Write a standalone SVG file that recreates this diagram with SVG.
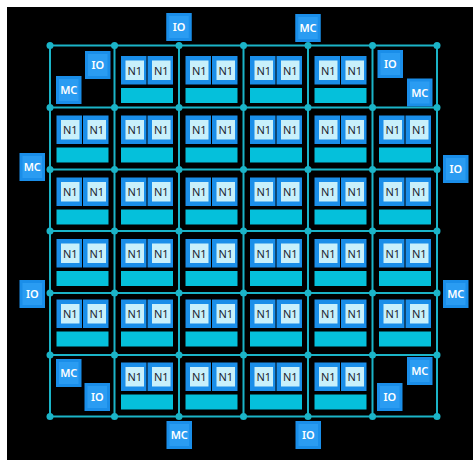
<svg xmlns="http://www.w3.org/2000/svg" width="473" height="460" viewBox="0 0 473 460">
<style>
.b{fill:#1a8ee9}
.bi{fill:#2a9cf2}
.l{fill:#c8f0fb}
.c{fill:#05c0db}
.t{font-family:"Noto Sans","Open Sans",sans-serif;font-size:11px;fill:#1b2430;text-anchor:middle}
.w{font-family:"Noto Sans","Open Sans",sans-serif;font-size:11px;font-weight:600;fill:#ffffff;text-anchor:middle}
.g{stroke:#1bb4c8;stroke-width:2;fill:none}
.d{fill:#1bb4c8}
</style>
<rect x="0" y="0" width="473" height="460" fill="#ffffff"/>
<rect x="7" y="7" width="466" height="453" fill="#000000"/>
<g id="connectors">
<path class="g" d="M50 45.5H437M50 107.5H437M50 169.5H437M50 231H437M50 293H437M50 355H437M50 416.5H437M50 45.5V416.5M114.5 45.5V416.5M179 45.5V416.5M243.5 45.5V416.5M308 45.5V416.5M372.5 45.5V416.5M437 45.5V416.5"/>
<g class="d">
<circle cx="50" cy="45.5" r="3.5"/><circle cx="114.5" cy="45.5" r="3.5"/><circle cx="179" cy="45.5" r="3.5"/><circle cx="243.5" cy="45.5" r="3.5"/><circle cx="308" cy="45.5" r="3.5"/><circle cx="372.5" cy="45.5" r="3.5"/><circle cx="437" cy="45.5" r="3.5"/>
<circle cx="50" cy="107.5" r="3.5"/><circle cx="114.5" cy="107.5" r="3.5"/><circle cx="179" cy="107.5" r="3.5"/><circle cx="243.5" cy="107.5" r="3.5"/><circle cx="308" cy="107.5" r="3.5"/><circle cx="372.5" cy="107.5" r="3.5"/><circle cx="437" cy="107.5" r="3.5"/>
<circle cx="50" cy="169.5" r="3.5"/><circle cx="114.5" cy="169.5" r="3.5"/><circle cx="179" cy="169.5" r="3.5"/><circle cx="243.5" cy="169.5" r="3.5"/><circle cx="308" cy="169.5" r="3.5"/><circle cx="372.5" cy="169.5" r="3.5"/><circle cx="437" cy="169.5" r="3.5"/>
<circle cx="50" cy="231" r="3.5"/><circle cx="114.5" cy="231" r="3.5"/><circle cx="179" cy="231" r="3.5"/><circle cx="243.5" cy="231" r="3.5"/><circle cx="308" cy="231" r="3.5"/><circle cx="372.5" cy="231" r="3.5"/><circle cx="437" cy="231" r="3.5"/>
<circle cx="50" cy="293" r="3.5"/><circle cx="114.5" cy="293" r="3.5"/><circle cx="179" cy="293" r="3.5"/><circle cx="243.5" cy="293" r="3.5"/><circle cx="308" cy="293" r="3.5"/><circle cx="372.5" cy="293" r="3.5"/><circle cx="437" cy="293" r="3.5"/>
<circle cx="50" cy="355" r="3.5"/><circle cx="114.5" cy="355" r="3.5"/><circle cx="179" cy="355" r="3.5"/><circle cx="243.5" cy="355" r="3.5"/><circle cx="308" cy="355" r="3.5"/><circle cx="372.5" cy="355" r="3.5"/><circle cx="437" cy="355" r="3.5"/>
<circle cx="50" cy="416.5" r="3.5"/><circle cx="114.5" cy="416.5" r="3.5"/><circle cx="179" cy="416.5" r="3.5"/><circle cx="243.5" cy="416.5" r="3.5"/><circle cx="308" cy="416.5" r="3.5"/><circle cx="372.5" cy="416.5" r="3.5"/><circle cx="437" cy="416.5" r="3.5"/>
</g>
</g>
<defs>
<g id="pe">
<rect class="b" x="6.5" y="0" width="25.5" height="28.5"/>
<rect class="b" x="33" y="0" width="25.5" height="28.5"/>
<rect class="l" x="11" y="4.5" width="18.5" height="19.5"/>
<rect class="l" x="37.5" y="4.5" width="18.5" height="19.5"/>
<rect class="c" x="6.5" y="32" width="52" height="15"/>
</g>
</defs>
<!-- row 0 -->
<g id="n-r0c1" transform="translate(114.5 56)"><use href="#pe"/><text class="t" x="20.25" y="18.5">N1</text><text class="t" x="46.75" y="18.5">N1</text></g>
<g id="n-r0c2" transform="translate(179 56)"><use href="#pe"/><text class="t" x="20.25" y="18.5">N1</text><text class="t" x="46.75" y="18.5">N1</text></g>
<g id="n-r0c3" transform="translate(243.5 56)"><use href="#pe"/><text class="t" x="20.25" y="18.5">N1</text><text class="t" x="46.75" y="18.5">N1</text></g>
<g id="n-r0c4" transform="translate(308 56)"><use href="#pe"/><text class="t" x="20.25" y="18.5">N1</text><text class="t" x="46.75" y="18.5">N1</text></g>
<!-- row 1 -->
<g id="n-r1c0" transform="translate(50 115.5)"><use href="#pe"/><text class="t" x="20.25" y="18.5">N1</text><text class="t" x="46.75" y="18.5">N1</text></g>
<g id="n-r1c1" transform="translate(114.5 115.5)"><use href="#pe"/><text class="t" x="20.25" y="18.5">N1</text><text class="t" x="46.75" y="18.5">N1</text></g>
<g id="n-r1c2" transform="translate(179 115.5)"><use href="#pe"/><text class="t" x="20.25" y="18.5">N1</text><text class="t" x="46.75" y="18.5">N1</text></g>
<g id="n-r1c3" transform="translate(243.5 115.5)"><use href="#pe"/><text class="t" x="20.25" y="18.5">N1</text><text class="t" x="46.75" y="18.5">N1</text></g>
<g id="n-r1c4" transform="translate(308 115.5)"><use href="#pe"/><text class="t" x="20.25" y="18.5">N1</text><text class="t" x="46.75" y="18.5">N1</text></g>
<g id="n-r1c5" transform="translate(372.5 115.5)"><use href="#pe"/><text class="t" x="20.25" y="18.5">N1</text><text class="t" x="46.75" y="18.5">N1</text></g>
<!-- row 2 -->
<g id="n-r2c0" transform="translate(50 177.5)"><use href="#pe"/><text class="t" x="20.25" y="18.5">N1</text><text class="t" x="46.75" y="18.5">N1</text></g>
<g id="n-r2c1" transform="translate(114.5 177.5)"><use href="#pe"/><text class="t" x="20.25" y="18.5">N1</text><text class="t" x="46.75" y="18.5">N1</text></g>
<g id="n-r2c2" transform="translate(179 177.5)"><use href="#pe"/><text class="t" x="20.25" y="18.5">N1</text><text class="t" x="46.75" y="18.5">N1</text></g>
<g id="n-r2c3" transform="translate(243.5 177.5)"><use href="#pe"/><text class="t" x="20.25" y="18.5">N1</text><text class="t" x="46.75" y="18.5">N1</text></g>
<g id="n-r2c4" transform="translate(308 177.5)"><use href="#pe"/><text class="t" x="20.25" y="18.5">N1</text><text class="t" x="46.75" y="18.5">N1</text></g>
<g id="n-r2c5" transform="translate(372.5 177.5)"><use href="#pe"/><text class="t" x="20.25" y="18.5">N1</text><text class="t" x="46.75" y="18.5">N1</text></g>
<!-- row 3 -->
<g id="n-r3c0" transform="translate(50 239)"><use href="#pe"/><text class="t" x="20.25" y="18.5">N1</text><text class="t" x="46.75" y="18.5">N1</text></g>
<g id="n-r3c1" transform="translate(114.5 239)"><use href="#pe"/><text class="t" x="20.25" y="18.5">N1</text><text class="t" x="46.75" y="18.5">N1</text></g>
<g id="n-r3c2" transform="translate(179 239)"><use href="#pe"/><text class="t" x="20.25" y="18.5">N1</text><text class="t" x="46.75" y="18.5">N1</text></g>
<g id="n-r3c3" transform="translate(243.5 239)"><use href="#pe"/><text class="t" x="20.25" y="18.5">N1</text><text class="t" x="46.75" y="18.5">N1</text></g>
<g id="n-r3c4" transform="translate(308 239)"><use href="#pe"/><text class="t" x="20.25" y="18.5">N1</text><text class="t" x="46.75" y="18.5">N1</text></g>
<g id="n-r3c5" transform="translate(372.5 239)"><use href="#pe"/><text class="t" x="20.25" y="18.5">N1</text><text class="t" x="46.75" y="18.5">N1</text></g>
<!-- row 4 -->
<g id="n-r4c0" transform="translate(50 299.5)"><use href="#pe"/><text class="t" x="20.25" y="18.5">N1</text><text class="t" x="46.75" y="18.5">N1</text></g>
<g id="n-r4c1" transform="translate(114.5 299.5)"><use href="#pe"/><text class="t" x="20.25" y="18.5">N1</text><text class="t" x="46.75" y="18.5">N1</text></g>
<g id="n-r4c2" transform="translate(179 299.5)"><use href="#pe"/><text class="t" x="20.25" y="18.5">N1</text><text class="t" x="46.75" y="18.5">N1</text></g>
<g id="n-r4c3" transform="translate(243.5 299.5)"><use href="#pe"/><text class="t" x="20.25" y="18.5">N1</text><text class="t" x="46.75" y="18.5">N1</text></g>
<g id="n-r4c4" transform="translate(308 299.5)"><use href="#pe"/><text class="t" x="20.25" y="18.5">N1</text><text class="t" x="46.75" y="18.5">N1</text></g>
<g id="n-r4c5" transform="translate(372.5 299.5)"><use href="#pe"/><text class="t" x="20.25" y="18.5">N1</text><text class="t" x="46.75" y="18.5">N1</text></g>
<!-- row 5 -->
<g id="n-r5c1" transform="translate(114.5 362.5)"><use href="#pe"/><text class="t" x="20.25" y="18.5">N1</text><text class="t" x="46.75" y="18.5">N1</text></g>
<g id="n-r5c2" transform="translate(179 362.5)"><use href="#pe"/><text class="t" x="20.25" y="18.5">N1</text><text class="t" x="46.75" y="18.5">N1</text></g>
<g id="n-r5c3" transform="translate(243.5 362.5)"><use href="#pe"/><text class="t" x="20.25" y="18.5">N1</text><text class="t" x="46.75" y="18.5">N1</text></g>
<g id="n-r5c4" transform="translate(308 362.5)"><use href="#pe"/><text class="t" x="20.25" y="18.5">N1</text><text class="t" x="46.75" y="18.5">N1</text></g>
<!-- corner IO/MC -->
<g id="io-tl" transform="translate(85 51)"><rect class="b" width="25.5" height="28"/><rect class="bi" x="3" y="3" width="19.5" height="22"/><text class="w" x="12.75" y="18">IO</text></g>
<g id="mc-tl" transform="translate(56 76)"><rect class="b" width="25.5" height="28"/><rect class="bi" x="3" y="3" width="19.5" height="22"/><text class="w" x="12.75" y="18">MC</text></g>
<g id="io-tr" transform="translate(377.5 50)"><rect class="b" width="25.5" height="28"/><rect class="bi" x="3" y="3" width="19.5" height="22"/><text class="w" x="12.75" y="18">IO</text></g>
<g id="mc-tr" transform="translate(407 78.5)"><rect class="b" width="25.5" height="28"/><rect class="bi" x="3" y="3" width="19.5" height="22"/><text class="w" x="12.75" y="18">MC</text></g>
<g id="mc-bl" transform="translate(56 359)"><rect class="b" width="25.5" height="28"/><rect class="bi" x="3" y="3" width="19.5" height="22"/><text class="w" x="12.75" y="18">MC</text></g>
<g id="io-bl" transform="translate(84.5 383)"><rect class="b" width="25.5" height="28"/><rect class="bi" x="3" y="3" width="19.5" height="22"/><text class="w" x="12.75" y="18">IO</text></g>
<g id="mc-br" transform="translate(407 357)"><rect class="b" width="25.5" height="28"/><rect class="bi" x="3" y="3" width="19.5" height="22"/><text class="w" x="12.75" y="18">MC</text></g>
<g id="io-br" transform="translate(377 383)"><rect class="b" width="25.5" height="28"/><rect class="bi" x="3" y="3" width="19.5" height="22"/><text class="w" x="12.75" y="18">IO</text></g>
<!-- outer IO/MC -->
<g id="io-top" transform="translate(166.25 13)"><rect class="b" width="25.5" height="28"/><rect class="bi" x="3" y="3" width="19.5" height="22"/><text class="w" x="12.75" y="18">IO</text></g>
<g id="mc-top" transform="translate(295.25 14)"><rect class="b" width="25.5" height="28"/><rect class="bi" x="3" y="3" width="19.5" height="22"/><text class="w" x="12.75" y="18">MC</text></g>
<g id="mc-left" transform="translate(19.5 153)"><rect class="b" width="25.5" height="28"/><rect class="bi" x="3" y="3" width="19.5" height="22"/><text class="w" x="12.75" y="18">MC</text></g>
<g id="io-left" transform="translate(19.5 280)"><rect class="b" width="25.5" height="28"/><rect class="bi" x="3" y="3" width="19.5" height="22"/><text class="w" x="12.75" y="18">IO</text></g>
<g id="io-right" transform="translate(443 155)"><rect class="b" width="25.5" height="28"/><rect class="bi" x="3" y="3" width="19.5" height="22"/><text class="w" x="12.75" y="18">IO</text></g>
<g id="mc-right" transform="translate(443 280)"><rect class="b" width="25.5" height="28"/><rect class="bi" x="3" y="3" width="19.5" height="22"/><text class="w" x="12.75" y="18">MC</text></g>
<g id="mc-bottom" transform="translate(166.5 421)"><rect class="b" width="25.5" height="28"/><rect class="bi" x="3" y="3" width="19.5" height="22"/><text class="w" x="12.75" y="18">MC</text></g>
<g id="io-bottom" transform="translate(295.5 421)"><rect class="b" width="25.5" height="28"/><rect class="bi" x="3" y="3" width="19.5" height="22"/><text class="w" x="12.75" y="18">IO</text></g>
</svg>
